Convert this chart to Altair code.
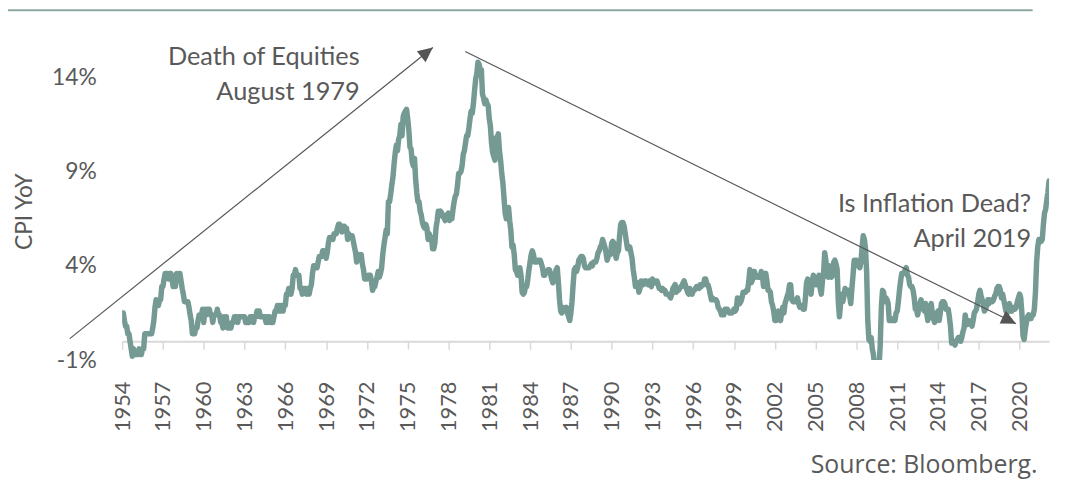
import altair as alt
import pandas as pd

# Monthly US CPI YoY (%), Jan 1954 .. Mar 2022
cpi_1950s = [
    1.5, 1.5, 1.1, 0.8, 0.8, 0.4, 0.4, 0.0, -0.4, -0.8, -0.4, -0.7,
    -0.7, -0.7, -0.7, -0.4, -0.7, -0.7, -0.4, -0.4, 0.4, 0.4, 0.4, 0.4,
    0.4, 0.4, 0.4, 0.7, 1.1, 1.8, 2.2, 1.9, 1.9, 2.2, 2.2, 2.9,
    2.9, 3.3, 3.6, 3.6, 3.6, 3.3, 3.3, 3.6, 3.3, 2.9, 3.3, 2.9,
    3.6, 3.2, 3.6, 3.6, 3.2, 2.8, 2.5, 2.1, 2.1, 2.1, 2.1, 1.8,
    1.4, 1.1, 0.4, 0.4, 0.4, 0.7, 0.7, 1.1, 1.4, 1.4, 1.4, 1.7,
]
cpi_1960s = [
    1.0, 1.7, 1.4, 1.7, 1.7, 1.7, 1.4, 1.4, 1.0, 1.4, 1.4, 1.4,
    1.7, 1.4, 1.4, 1.0, 1.0, 0.7, 1.3, 1.0, 1.3, 0.7, 0.7, 0.7,
    0.7, 1.0, 1.0, 1.3, 1.3, 1.3, 1.0, 1.3, 1.3, 1.3, 1.3, 1.3,
    1.3, 1.0, 1.0, 1.0, 1.0, 1.3, 1.3, 1.3, 1.0, 1.3, 1.3, 1.6,
    1.6, 1.6, 1.3, 1.3, 1.3, 1.3, 1.3, 1.0, 1.3, 1.0, 1.3, 1.0,
    1.0, 1.0, 1.3, 1.6, 1.6, 1.9, 1.6, 1.9, 1.6, 1.9, 1.6, 1.9,
    1.9, 2.5, 2.5, 2.8, 2.8, 2.5, 2.8, 3.5, 3.5, 3.8, 3.5, 3.5,
    3.5, 2.8, 2.8, 2.5, 2.8, 2.8, 2.8, 2.5, 2.8, 2.5, 2.8, 3.0,
    3.6, 4.0, 4.0, 3.9, 3.9, 4.2, 4.5, 4.5, 4.5, 4.8, 4.8, 4.7,
    4.4, 4.7, 5.2, 5.5, 5.5, 5.5, 5.4, 5.7, 5.7, 5.7, 6.0, 6.2,
]
cpi_1970s = [
    6.2, 6.1, 5.8, 6.1, 6.1, 6.0, 6.0, 5.4, 5.7, 5.6, 5.6, 5.6,
    5.3, 5.0, 4.7, 4.2, 4.4, 4.6, 4.4, 4.6, 4.1, 3.8, 3.3, 3.3,
    3.3, 3.5, 3.5, 3.5, 3.2, 2.7, 2.9, 2.9, 3.2, 3.4, 3.7, 3.4,
    3.6, 3.9, 4.6, 5.1, 5.5, 5.9, 5.7, 7.4, 7.4, 7.8, 8.3, 8.7,
    9.4, 10.0, 10.4, 10.1, 10.7, 10.9, 11.5, 10.9, 11.9, 12.1, 12.2, 12.3,
    11.8, 11.2, 10.3, 10.2, 9.5, 9.3, 9.7, 8.6, 7.9, 7.4, 7.4, 6.9,
    6.7, 6.3, 6.1, 6.0, 6.2, 6.0, 5.4, 5.7, 5.5, 5.5, 4.9, 4.9,
    5.2, 6.0, 6.4, 6.9, 6.7, 6.9, 6.8, 6.6, 6.6, 6.4, 6.7, 6.7,
    6.8, 6.4, 6.6, 6.5, 7.0, 7.4, 7.7, 7.8, 8.3, 8.9, 8.9, 9.0,
    9.3, 9.9, 10.1, 10.5, 10.9, 10.9, 11.3, 11.8, 12.2, 12.1, 12.6, 13.3,
]
cpi_1980s = [
    13.9, 14.2, 14.8, 14.7, 14.4, 14.4, 13.1, 12.9, 12.6, 12.8, 12.6, 12.5,
    11.8, 11.4, 10.5, 10.0, 9.8, 9.6, 10.8, 10.8, 11.0, 10.1, 9.6, 8.9,
    8.4, 7.6, 6.8, 6.5, 6.7, 7.1, 6.4, 5.9, 5.0, 5.1, 4.6, 3.8,
    3.7, 3.5, 3.6, 3.9, 3.5, 2.6, 2.5, 2.6, 2.9, 2.9, 3.3, 3.8,
    4.2, 4.6, 4.8, 4.6, 4.2, 4.2, 4.2, 4.3, 4.3, 4.3, 4.1, 3.9,
    3.5, 3.5, 3.7, 3.7, 3.8, 3.8, 3.6, 3.3, 3.1, 3.2, 3.5, 3.8,
    3.9, 3.1, 2.2, 1.6, 1.5, 1.8, 1.6, 1.6, 1.8, 1.5, 1.3, 1.1,
    1.5, 2.1, 3.0, 3.8, 3.9, 3.7, 3.9, 4.3, 4.4, 4.5, 4.5, 4.4,
    4.0, 3.9, 3.9, 3.9, 3.9, 4.0, 4.1, 4.0, 4.2, 4.2, 4.2, 4.4,
    4.7, 4.8, 5.0, 5.1, 5.4, 5.2, 5.0, 4.7, 4.3, 4.5, 4.7, 4.6,
]
cpi_1990s = [
    5.2, 5.3, 5.2, 4.7, 4.4, 4.7, 4.8, 5.6, 6.2, 6.3, 6.3, 6.1,
    5.7, 5.3, 4.9, 4.9, 5.0, 4.7, 4.4, 3.8, 3.4, 2.9, 3.0, 3.1,
    2.6, 2.8, 3.2, 3.2, 3.0, 3.1, 3.2, 3.1, 3.0, 3.2, 3.0, 2.9,
    3.3, 3.2, 3.1, 3.2, 3.2, 3.0, 2.8, 2.8, 2.7, 2.8, 2.7, 2.7,
    2.5, 2.5, 2.5, 2.4, 2.3, 2.5, 2.8, 2.9, 3.0, 2.6, 2.7, 2.7,
    2.8, 2.9, 2.9, 3.1, 3.2, 3.0, 2.8, 2.6, 2.5, 2.8, 2.6, 2.5,
    2.7, 2.7, 2.8, 2.9, 2.9, 2.8, 3.0, 2.9, 3.0, 3.0, 3.3, 3.3,
    3.0, 3.0, 2.8, 2.5, 2.2, 2.3, 2.2, 2.2, 2.2, 2.1, 1.8, 1.7,
    1.6, 1.4, 1.4, 1.4, 1.7, 1.7, 1.7, 1.6, 1.5, 1.5, 1.5, 1.6,
    1.7, 1.6, 1.7, 2.3, 2.1, 2.0, 2.1, 2.3, 2.6, 2.6, 2.6, 2.7,
]
cpi_2000s = [
    2.7, 3.2, 3.8, 3.1, 3.2, 3.7, 3.7, 3.4, 3.5, 3.4, 3.4, 3.4,
    3.7, 3.5, 2.9, 3.3, 3.6, 3.2, 2.7, 2.7, 2.6, 2.1, 1.9, 1.6,
    1.1, 1.1, 1.5, 1.6, 1.2, 1.1, 1.5, 1.8, 1.5, 2.0, 2.2, 2.4,
    2.6, 3.0, 3.0, 2.2, 2.1, 2.1, 2.1, 2.2, 2.3, 2.0, 1.8, 1.9,
    1.9, 1.7, 1.7, 2.3, 3.1, 3.3, 3.0, 2.7, 2.5, 3.2, 3.5, 3.3,
    3.0, 3.0, 3.1, 3.5, 2.8, 2.5, 3.2, 3.6, 4.7, 4.3, 3.5, 3.4,
    4.0, 3.6, 3.4, 3.5, 4.2, 4.3, 4.1, 3.8, 2.1, 1.3, 2.0, 2.5,
    2.1, 2.4, 2.8, 2.6, 2.7, 2.7, 2.4, 2.0, 2.8, 3.5, 4.3, 4.1,
    4.3, 4.0, 4.0, 3.9, 4.2, 5.0, 5.6, 5.4, 4.9, 3.7, 1.1, 0.1,
    0.0, 0.2, -0.4, -0.7, -1.3, -1.4, -2.1, -1.5, -1.3, -0.2, 1.8, 2.7,
]
cpi_2010s = [
    2.6, 2.1, 2.3, 2.2, 2.0, 1.1, 1.2, 1.1, 1.1, 1.2, 1.1, 1.5,
    1.6, 2.1, 2.7, 3.2, 3.6, 3.6, 3.6, 3.8, 3.9, 3.5, 3.4, 3.0,
    2.9, 2.9, 2.7, 2.3, 1.7, 1.7, 1.4, 1.7, 2.0, 2.2, 1.8, 1.7,
    1.6, 2.0, 1.5, 1.1, 1.4, 1.8, 2.0, 1.5, 1.2, 1.0, 1.2, 1.5,
    1.6, 1.1, 1.5, 2.0, 2.1, 2.1, 2.0, 1.7, 1.7, 1.7, 1.3, 0.8,
    -0.1, 0.0, -0.1, -0.2, 0.0, 0.1, 0.2, 0.2, 0.0, 0.2, 0.5, 0.7,
    1.4, 1.0, 0.9, 1.1, 1.0, 1.0, 0.8, 1.1, 1.5, 1.6, 1.7, 2.1,
    2.5, 2.7, 2.4, 2.2, 1.9, 1.6, 1.7, 1.9, 2.2, 2.0, 2.2, 2.1,
    2.1, 2.2, 2.4, 2.5, 2.8, 2.9, 2.9, 2.7, 2.3, 2.5, 2.2, 1.9,
    1.6, 1.5, 1.9, 2.0, 1.8, 1.6, 1.8, 1.7, 1.7, 1.8, 2.1, 2.3,
]
cpi_2020s = [
    2.5, 2.3, 1.5, 0.3, 0.1, 0.6, 1.0, 1.3, 1.4, 1.2, 1.2, 1.4,
    1.4, 1.7, 2.6, 4.2, 5.0, 5.4, 5.4, 5.3, 5.4, 6.2, 6.8, 7.0,
    7.5, 7.9, 8.5,
]

first_year = 1954
x_tick_years = list(range(1954, 2021, 3))
y_tick_values = [-1, 4, 9, 14]
y_domain = [-1, 16]

# Annotations
ann_text = ["Death of Equities", "August 1979", "Is Inflation Dead?", "April 2019"]
ann_x = [1971.47, 1971.47, 2020.85, 2020.85]
ann_y = [15.05, 13.2, 7.26, 5.42]

arrow_x = [1950.15, 1979.23]
arrow_y = [0.14, 15.37]
arrow_x2 = [1976.85, 2019.74]
arrow_y2 = [15.58, 0.93]
arrow_angle = [51.3, 116.3]

sep_x, sep_x2, sep_y = [1945.6], [2020.96], [17.55]
source_text, source_x, source_y = ["Source: Bloomberg."], [2021.32], [-7.0]

values = cpi_1950s + cpi_1960s + cpi_1970s + cpi_1980s + cpi_1990s + cpi_2000s + cpi_2010s + cpi_2020s
t = [first_year + i / 12 for i in range(len(values))]
df = pd.DataFrame({"t": t, "cpi": values})
x_domain = [first_year, t[-1]]

FONT = "Lato"
TEXT = "#595959"
LINE = "#759a94"

xs = alt.Scale(domain=x_domain, nice=False, zero=False)
ys = alt.Scale(domain=y_domain, nice=False, zero=False)

x_axis = alt.Axis(
    values=x_tick_years, format="d", labelAngle=270, title=None,
    offset=-19, tickSize=8, labelPadding=32, grid=False,
    domainColor="#d9d9d9", domainWidth=2, tickColor="#d9d9d9", tickWidth=1.5,
    labelFont=FONT, labelFontSize=22, labelColor=TEXT, labelOverlap=False,
)
y_axis = alt.Axis(
    values=y_tick_values, labelExpr="datum.value + '%'", grid=False,
    domain=False, ticks=False, tickSize=0, labelPadding=26,
    labelFont=FONT, labelFontSize=23, labelColor=TEXT,
    title="CPI YoY", titleFont=FONT, titleFontSize=23, titleColor=TEXT,
    titleFontWeight="normal", titleAngle=270, titleX=-98, titleY=173,
    titleAlign="center", titleBaseline="middle",
)


def X(field):
    return alt.X(field, scale=xs, axis=x_axis)


def Y(field):
    return alt.Y(field, scale=ys, axis=y_axis)


line = alt.Chart(df).mark_line(
    color=LINE, strokeWidth=5.5, strokeJoin="round", strokeCap="round", clip=True
).encode(x=X("t:Q"), y=Y("cpi:Q"))

arrows_df = pd.DataFrame({"x": arrow_x, "y": arrow_y, "x2": arrow_x2, "y2": arrow_y2, "angle": arrow_angle})
arrows = alt.Chart(arrows_df).mark_rule(color="#555555", strokeWidth=1.2).encode(
    x=X("x:Q"), y=Y("y:Q"), x2="x2:Q", y2="y2:Q",
)
heads = alt.Chart(arrows_df).mark_point(
    shape="M 0 0 L -0.47 1 L 0.47 1 Z", size=900, filled=True, opacity=1, color="#555555"
).encode(
    x=X("x2:Q"), y=Y("y2:Q"), angle=alt.Angle("angle:Q", scale=None),
)

ann_df = pd.DataFrame({"x": ann_x, "y": ann_y, "text": ann_text})
ann = alt.Chart(ann_df).mark_text(
    font=FONT, fontSize=25.5, color=TEXT, align="right", baseline="middle"
).encode(x=X("x:Q"), y=Y("y:Q"), text="text:N")

sep_df = pd.DataFrame({"x": sep_x, "x2": sep_x2, "y": sep_y})
sep = alt.Chart(sep_df).mark_rule(color="#8ba7a2", strokeWidth=2).encode(
    x=X("x:Q"), x2="x2:Q", y=Y("y:Q")
)

src_df = pd.DataFrame({"x": source_x, "y": source_y, "text": source_text})
src = alt.Chart(src_df).mark_text(
    font="Open Sans", fontSize=25, color=TEXT, align="right", baseline="alphabetic"
).encode(x=X("x:Q"), y=Y("y:Q"), text="text:N")

chart = alt.layer(line, sep, arrows, heads, ann, src).properties(
    width=934, height=323,
    autosize=alt.AutoSizeParams(type="none"),
    padding={"left": 115, "top": 30, "right": 9, "bottom": 120},
).configure_view(stroke=None)

chart.save("out.html", embed_options={"renderer": "svg", "actions": False})
